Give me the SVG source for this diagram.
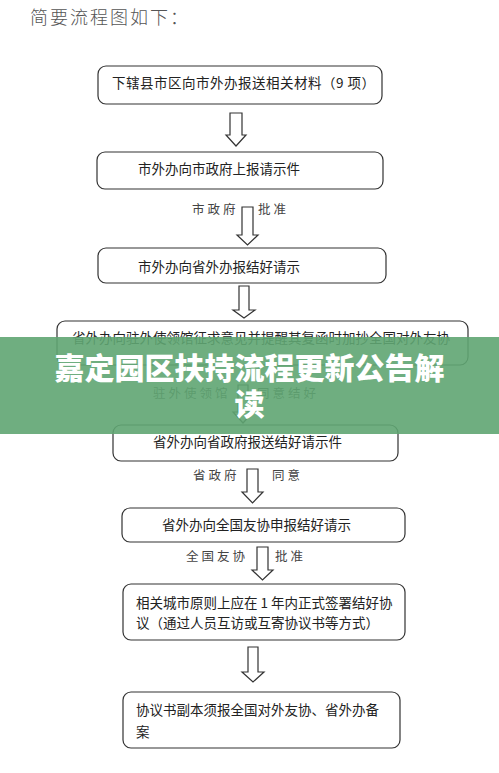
<svg xmlns="http://www.w3.org/2000/svg" width="499" height="773" viewBox="0 0 499 773">
<style>
.box{fill:#fff;stroke:#333;stroke-width:1.2}
.arr{fill:#fff;stroke:#333;stroke-width:1.2;stroke-linejoin:miter}
.t{font-family:"Noto Sans CJK SC","Liberation Sans",sans-serif;font-size:13.5px;fill:#222}
.lbl{font-family:"Noto Sans CJK SC","Liberation Sans",sans-serif;font-size:12.5px;fill:#444;letter-spacing:3px}
.title{font-family:"Noto Sans CJK SC","Liberation Sans",sans-serif;font-size:18px;fill:#555;font-weight:300;letter-spacing:2px}
.ban{font-family:"Noto Sans CJK SC","Liberation Sans",sans-serif;font-size:30px;font-weight:900;fill:#fff;text-anchor:middle}
</style>
<rect width="499" height="773" fill="#fff"/>
<text class="title" x="30" y="24">简要流程图如下：</text>

<g id="connectors">
<polygon class="arr" points="230,113 242,113 242,135 246,135 236,146 226,135 230,135"/>
<polygon class="arr" points="242,207 253,207 253,235 258,235 247.5,245 237,235 242,235"/>
<polygon class="arr" points="239,286 249,286 249,310 255,310 244,318 233,310 239,310"/>
<polygon class="arr" points="238,385 248,385 248,412 253,412 243,423 233,412 238,412"/>
<polygon class="arr" points="247,469 258,469 258,492 263,492 252.5,503 242,492 247,492"/>
<polygon class="arr" points="257,547 268,547 268,570 273,570 262.5,580 252,570 257,570"/>
<polygon class="arr" points="248,647 258,647 258,672 264,672 253,682 242,672 248,672"/>
<text class="lbl" x="192" y="214">市政府</text>
<text class="lbl" x="258" y="214">批准</text>
<text class="lbl" x="153" y="398">驻外使领馆</text>
<text class="lbl" x="257" y="398">同意结好</text>
<text class="lbl" x="193" y="480">省政府</text>
<text class="lbl" x="272" y="480">同意</text>
<text class="lbl" x="186" y="561">全国友协</text>
<text class="lbl" x="275" y="561">批准</text>
</g>

<g id="n1"><rect class="box" x="98" y="66" width="284" height="38" rx="8"/><text class="t" x="112" y="88" letter-spacing="0.5">下辖县市区向市外办报送相关材料（9 项）</text></g>
<g id="n2"><rect class="box" x="97" y="152" width="286" height="37" rx="8"/><text class="t" x="138" y="174">市外办向市政府上报请示件</text></g>
<g id="n3"><rect class="box" x="98" y="248" width="288" height="35" rx="8"/><text class="t" x="138" y="272">市外办向省外办报结好请示</text></g>
<g id="n4"><rect class="box" x="57" y="321" width="411" height="44" rx="8"/><text class="t" x="72" y="343">省外办向驻外使领馆征求意见并提醒其复函时加抄全国对外友协</text></g>
<g id="n5"><rect class="box" x="113" y="425" width="285" height="36" rx="8"/><text class="t" x="153" y="447">省外办向省政府报送结好请示件</text></g>
<g id="n6"><rect class="box" x="122" y="508" width="283" height="34" rx="8"/><text class="t" x="162" y="530">省外办向全国友协申报结好请示</text></g>
<g id="n7"><rect class="box" x="123" y="584" width="282" height="56" rx="8"/><text class="t" x="136" y="608">相关城市原则上应在 1 年内正式签署结好协</text><text class="t" x="136" y="628">议（通过人员互访或互寄协议书等方式）</text></g>
<g id="n8"><rect class="box" x="123" y="692" width="277" height="56" rx="8"/><text class="t" x="136" y="715">协议书副本须报全国对外友协、省外办备</text><text class="t" x="136" y="737">案</text></g>

<g id="banner">
<rect x="0" y="337" width="499" height="97" fill="#5fa572" opacity="0.9"/>
<text class="ban" x="249.5" y="379">嘉定园区扶持流程更新公告解</text>
<text class="ban" x="249.5" y="415">读</text>
</g>
</svg>
